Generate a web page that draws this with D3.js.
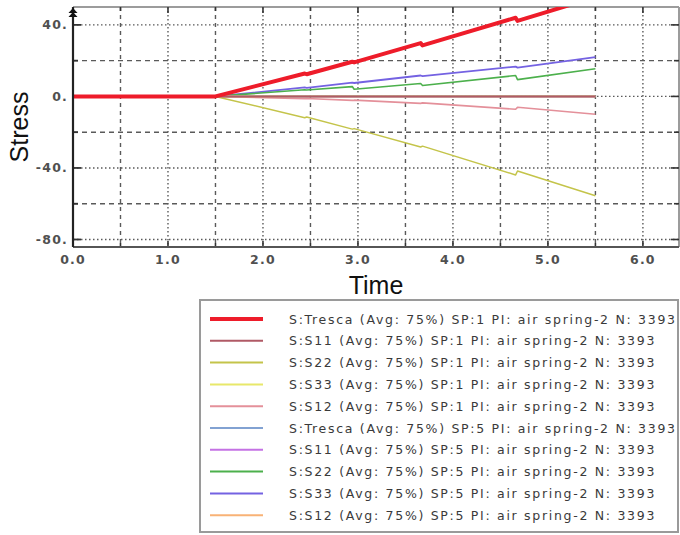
<!DOCTYPE html>
<html>
<head>
<meta charset="utf-8">
<script src="https://cdn.jsdelivr.net/npm/d3@7"></script>
<style>
  body { margin: 0; background: #fff; }
  svg { display: block; }
</style>
</head>
<body>
<svg id="chart" width="680" height="535"></svg>
<script>
// Sample times (s) shared by every history curve
const time = [0, 1.5, 2.44, 2.46, 2.94, 2.96, 3.66, 3.68, 4.66, 4.68, 5.5];

// Section point 1
const trescaSP1 = [0, 0, 12.8, 12.4, 19.4, 19.0, 29.8, 28.5, 44.0, 42.2, 55.5];
const s11SP1    = [0, 0, 0, 0, 0, 0, 0, 0, 0, 0, 0];
const s22SP1    = [0, 0, -11.9, -11.5, -18.3, -18.0, -28.3, -27.8, -43.9, -41.7, -55.5];
const s33SP1    = [0, 0, 0, 0, 0, 0, 0, 0, 0, 0, 0];
const s12SP1    = [0, 0, -1.3, -1.2, -2.2, -2.1, -3.9, -3.6, -7.2, -6.1, -10.0];

// Section point 5
const trescaSP5 = [0, 0, 0, 0, 0, 0, 0, 0, 0, 0, 0];
const s11SP5    = [0, 0, 0, 0, 0, 0, 0, 0, 0, 0, 0];
const s22SP5    = [0, 0, 3.7, 3.6, 5.5, 4.0, 7.2, 6.1, 11.7, 9.4, 15.5];
const s33SP5    = [0, 0, 5.0, 4.8, 7.7, 7.5, 11.7, 11.3, 16.7, 16.1, 22.0];
const s12SP5    = [0, 0, 0, 0, 0, 0, 0, 0, 0, 0, 0];

const legendLabels = [
  "S:Tresca (Avg: 75%) SP:1 PI: air spring-2 N: 3393",
  "S:S11 (Avg: 75%) SP:1 PI: air spring-2 N: 3393",
  "S:S22 (Avg: 75%) SP:1 PI: air spring-2 N: 3393",
  "S:S33 (Avg: 75%) SP:1 PI: air spring-2 N: 3393",
  "S:S12 (Avg: 75%) SP:1 PI: air spring-2 N: 3393",
  "S:Tresca (Avg: 75%) SP:5 PI: air spring-2 N: 3393",
  "S:S11 (Avg: 75%) SP:5 PI: air spring-2 N: 3393",
  "S:S22 (Avg: 75%) SP:5 PI: air spring-2 N: 3393",
  "S:S33 (Avg: 75%) SP:5 PI: air spring-2 N: 3393",
  "S:S12 (Avg: 75%) SP:5 PI: air spring-2 N: 3393"
];

const xTickValues = [0, 1, 2, 3, 4, 5, 6];
const xTickLabels = ["0.0", "1.0", "2.0", "3.0", "4.0", "5.0", "6.0"];
const yTickValues = [40, 0, -40, -80];
const yTickLabels = ["40.", "0.", "-40.", "-80."];

const seriesValues = [trescaSP1, s11SP1, s22SP1, s33SP1, s12SP1,
                      trescaSP5, s11SP5, s22SP5, s33SP5, s12SP5];
const seriesColors = ["#ee1c2a", "#b05a66", "#c4c44a", "#e8e86a", "#e4909a",
                      "#82a2d2", "#c472e4", "#4cb04c", "#7462e2", "#f8b276"];
const seriesWidths = [4, 2, 1.5, 1.6, 1.6, 1.8, 1.8, 1.6, 1.8, 1.6];

const series = seriesValues.map((v, i) => ({
  label: legendLabels[i], color: seriesColors[i], width: seriesWidths[i],
  points: time.map((t, k) => [t, v[k]])
}));

const svg = d3.select("#chart");
const plot = { left: 73, top: 7, right: 679, bottom: 247 };

const x = d3.scaleLinear().domain([0, 6.38]).range([plot.left, plot.right]);
const y = d3.scaleLinear().domain([-84.2, 50]).range([plot.bottom, plot.top]);

// Grid: dotted at labelled ticks, dashed half-way between
const gridColor = "#5a5a5a";
const gx = svg.append("g");
d3.range(0.5, 6.01, 0.5).forEach(v => {
  const major = Math.abs(v - Math.round(v)) < 1e-6;
  gx.append("line")
    .attr("x1", x(v)).attr("x2", x(v))
    .attr("y1", plot.top).attr("y2", plot.bottom)
    .attr("stroke", gridColor).attr("stroke-width", 1.4)
    .attr("stroke-dasharray", major ? "1.5,2.5" : "4,4");
});
d3.range(-80, 41, 20).forEach(v => {
  const major = v % 40 === 0;
  gx.append("line")
    .attr("x1", plot.left).attr("x2", plot.right)
    .attr("y1", y(v)).attr("y2", y(v))
    .attr("stroke", gridColor).attr("stroke-width", 1.4)
    .attr("stroke-dasharray", major ? "1.5,2.5" : "5,4");
});

// Frame: light top/right edges, dark axes on left/bottom
svg.append("line").attr("x1", plot.left).attr("x2", plot.right)
  .attr("y1", plot.top).attr("y2", plot.top)
  .attr("stroke", "#9c9c9c").attr("stroke-width", 2);
svg.append("line").attr("x1", plot.right).attr("x2", plot.right)
  .attr("y1", plot.top).attr("y2", plot.bottom)
  .attr("stroke", "#9c9c9c").attr("stroke-width", 2);

// Tick marks on all four edges
const tk = svg.append("g").attr("stroke", "#333");
d3.range(0, 6.01, 0.5).forEach(v => {
  const len = Math.abs(v - Math.round(v)) < 1e-6 ? 6 : 4;
  tk.append("line").attr("x1", x(v)).attr("x2", x(v))
    .attr("y1", plot.bottom).attr("y2", plot.bottom - len).attr("stroke-width", 1.6);
  tk.append("line").attr("x1", x(v)).attr("x2", x(v))
    .attr("y1", plot.top).attr("y2", plot.top + len).attr("stroke-width", 1.6);
});
d3.range(-80, 41, 20).forEach(v => {
  const len = v % 40 === 0 ? 8 : 5;
  tk.append("line").attr("x1", plot.left).attr("x2", plot.left + len)
    .attr("y1", y(v)).attr("y2", y(v)).attr("stroke-width", 1.8);
  tk.append("line").attr("x1", plot.right).attr("x2", plot.right - len)
    .attr("y1", y(v)).attr("y2", y(v)).attr("stroke-width", 1.6);
});

// Curves, clipped to the plotting area
svg.append("clipPath").attr("id", "plotClip")
  .append("rect").attr("x", plot.left).attr("y", plot.top)
  .attr("width", plot.right - plot.left).attr("height", plot.bottom - plot.top);

const line = d3.line().x(d => x(d[0])).y(d => y(d[1]));
const drawOrder = [9, 8, 7, 6, 5, 4, 3, 2, 1, 0];
svg.append("g").attr("clip-path", "url(#plotClip)")
  .selectAll("path").data(drawOrder.map(i => series[i])).join("path")
  .attr("d", d => line(d.points))
  .attr("fill", "none")
  .attr("stroke", d => d.color)
  .attr("stroke-width", d => d.width)
  .attr("stroke-linejoin", "round");

// Axes lines
svg.append("line").attr("x1", plot.left).attr("x2", plot.right)
  .attr("y1", plot.bottom).attr("y2", plot.bottom)
  .attr("stroke", "#555").attr("stroke-width", 2);
svg.append("line").attr("x1", plot.left).attr("x2", plot.left)
  .attr("y1", plot.top).attr("y2", plot.bottom)
  .attr("stroke", "#222").attr("stroke-width", 2.2);

// Double arrow head at the top of the vertical axis
const ah = svg.append("g").attr("fill", "#111");
[plot.top + 1, plot.top + 5].forEach(ty => {
  ah.append("path").attr("d",
    `M${plot.left},${ty} L${plot.left - 4.5},${ty + 5} L${plot.left + 4.5},${ty + 5} Z`);
});

// Tick labels
const tickFont = { family: "'DejaVu Sans', Verdana, sans-serif", size: 12.5 };
svg.append("g").selectAll("text").data(xTickValues).join("text")
  .attr("x", d => x(d)).attr("y", 264)
  .attr("text-anchor", "middle")
  .attr("font-family", tickFont.family).attr("font-size", tickFont.size)
  .attr("font-weight", 600)
  .attr("letter-spacing", 1.2).attr("fill", "#505050")
  .text((d, i) => xTickLabels[i]);
svg.append("g").selectAll("text").data(yTickValues).join("text")
  .attr("x", 68).attr("y", d => y(d) + 4.5)
  .attr("text-anchor", "end")
  .attr("font-family", tickFont.family).attr("font-size", tickFont.size)
  .attr("font-weight", 600)
  .attr("letter-spacing", 1.2).attr("fill", "#505050")
  .text((d, i) => yTickLabels[i]);

// Axis titles
svg.append("text").attr("x", 376).attr("y", 294)
  .attr("text-anchor", "middle")
  .attr("font-family", "'Liberation Sans', Arial, sans-serif").attr("font-size", 25)
  .attr("fill", "#111").text("Time");
svg.append("text")
  .attr("transform", "translate(28,127) rotate(-90)")
  .attr("text-anchor", "middle")
  .attr("font-family", "'Liberation Sans', Arial, sans-serif").attr("font-size", 25)
  .attr("fill", "#111").text("Stress");

// Legend
const lg = svg.append("g");
lg.append("rect").attr("x", 200).attr("y", 300).attr("width", 478).attr("height", 232)
  .attr("fill", "#fff").attr("stroke", "#9a9a9a").attr("stroke-width", 2);
const rowY = i => 319 + i * 21.8;
lg.selectAll("line.sample").data(series).join("line")
  .attr("class", "sample")
  .attr("x1", 210).attr("x2", 263)
  .attr("y1", (d, i) => rowY(i)).attr("y2", (d, i) => rowY(i))
  .attr("stroke", d => d.color)
  .attr("stroke-width", (d, i) => i === 0 ? 4 : 2);
const labels = lg.selectAll("text").data(series).join("text")
  .attr("x", 289).attr("y", (d, i) => rowY(i) + 4.5)
  .attr("font-family", "'DejaVu Sans', Verdana, sans-serif")
  .attr("font-size", 12.5)
  .attr("fill", "#3a3a3a")
  .text(d => d.label);
// widen the letter spacing so the longest entry spans the box
const w0 = labels.nodes()[0].getComputedTextLength();
const n0 = legendLabels[0].length;
labels.attr("letter-spacing", Math.max(0, (386 - w0) / (n0 - 1)));
</script>
</body>
</html>
